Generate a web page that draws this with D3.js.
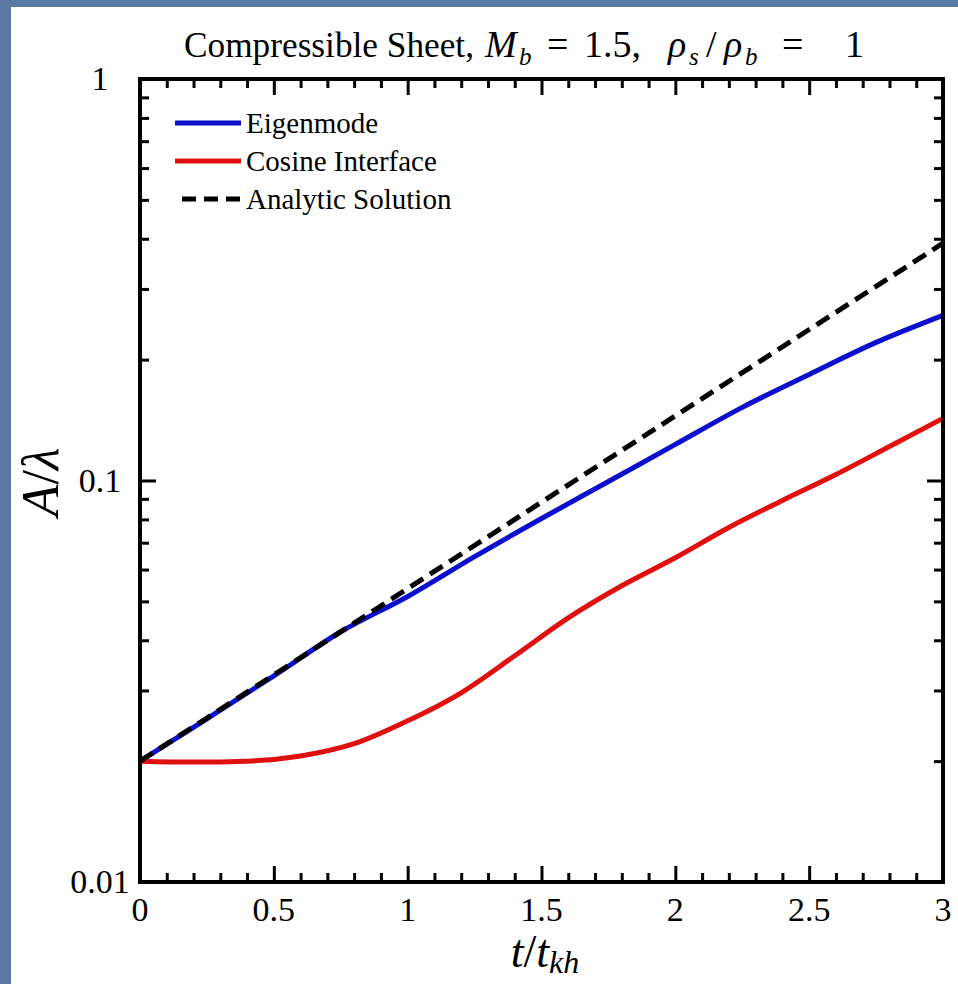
<!doctype html>
<html>
<head>
<meta charset="utf-8">
<script src="https://cdn.jsdelivr.net/npm/d3@7/dist/d3.min.js"></script>
<style>
  body { margin: 0; background: #5a7aa3; }
  svg { display: block; }
  text { font-family: "Liberation Serif", "DejaVu Serif", serif; fill: #000; }
</style>
</head>
<body>
<svg width="958" height="984"></svg>
<script>
// values
var tEigen  = [0, 0.25, 0.5, 0.75, 1.0, 1.25, 1.5, 1.75, 2.0, 2.25, 2.5, 2.75, 3.0];
var eigen   = [0.0200, 0.0255, 0.0326, 0.0420, 0.0514, 0.0646, 0.0804, 0.0994, 0.1230, 0.1521, 0.1837, 0.2208, 0.2579];

var tCosine = [0, 0.2, 0.4, 0.6, 0.8, 1.0, 1.2, 1.4, 1.6, 1.8, 2.0, 2.2, 2.4, 2.6, 2.8, 3.0];
var cosine  = [0.0200, 0.0199, 0.0200, 0.0206, 0.0221, 0.0252, 0.0296, 0.0366, 0.0455, 0.0547, 0.0642, 0.0764, 0.0892, 0.1035, 0.1215, 0.1428];

var tAnalytic = [0, 0.5, 1.0, 1.5, 2.0, 2.5, 3.0];
var analytic  = [0.0200, 0.0328, 0.0538, 0.0883, 0.1449, 0.2377, 0.390];

var xMajor = [0, 0.5, 1, 1.5, 2, 2.5, 3];
var xLabels = ["0", "0.5", "1", "1.5", "2", "2.5", "3"];
var yMajor = [0.01, 0.1, 1];
var yLabels = ["0.01", "0.1", "1"];

var seriesNames = ["Eigenmode", "Cosine Interface", "Analytic Solution"];
var seriesColors = ["#0c10cc", "#e01010", "#000000"];

var svg = d3.select("svg");

// blue border, white panel
svg.append("rect").attr("width", 958).attr("height", 984).attr("fill", "#5a7aa3");
svg.append("rect").attr("x", 11).attr("y", 7).attr("width", 947).attr("height", 977).attr("fill", "#fff");

var L = 140, R = 943, T = 79, B = 882;
var x = d3.scaleLinear().domain([0, 3]).range([L, R]);
var y = d3.scaleLog().domain([0.01, 1]).range([B, T]);

var xMinor = d3.range(0, 3.001, 0.1).filter(function(v) { return Math.abs(v * 2 - Math.round(v * 2)) > 1e-6; });
var yMinor = [];
[0.01, 0.1].forEach(function(d) { for (var k = 2; k <= 9; k++) yMinor.push(d * k); });

function styleAxis(g) {
  g.select(".domain").remove();
  g.selectAll("line").attr("stroke", "#000").attr("stroke-width", 3);
}

// ticks on all four sides, pointing in
svg.append("g").attr("transform", "translate(0," + B + ")")
  .call(d3.axisBottom(x).tickValues(xMajor).tickSize(-16).tickFormat("")).call(styleAxis);
svg.append("g").attr("transform", "translate(0," + B + ")")
  .call(d3.axisBottom(x).tickValues(xMinor).tickSize(-9).tickFormat("")).call(styleAxis);
svg.append("g").attr("transform", "translate(0," + T + ")")
  .call(d3.axisTop(x).tickValues(xMajor).tickSize(-16).tickFormat("")).call(styleAxis);
svg.append("g").attr("transform", "translate(0," + T + ")")
  .call(d3.axisTop(x).tickValues(xMinor).tickSize(-9).tickFormat("")).call(styleAxis);
svg.append("g").attr("transform", "translate(" + L + ",0)")
  .call(d3.axisLeft(y).tickValues(yMajor).tickSize(-16).tickFormat("")).call(styleAxis);
svg.append("g").attr("transform", "translate(" + L + ",0)")
  .call(d3.axisLeft(y).tickValues(yMinor).tickSize(-9).tickFormat("")).call(styleAxis);
svg.append("g").attr("transform", "translate(" + R + ",0)")
  .call(d3.axisRight(y).tickValues(yMajor).tickSize(-16).tickFormat("")).call(styleAxis);
svg.append("g").attr("transform", "translate(" + R + ",0)")
  .call(d3.axisRight(y).tickValues(yMinor).tickSize(-9).tickFormat("")).call(styleAxis);

// tick labels
svg.selectAll(".xl").data(xMajor).enter().append("text")
  .attr("x", function(d) { return x(d); }).attr("y", 921)
  .attr("text-anchor", "middle").attr("font-size", 34)
  .text(function(d, i) { return xLabels[i]; });
svg.selectAll(".yl").data(yMajor).enter().append("text")
  .attr("x", 100).attr("y", function(d) { return y(d) + 11; })
  .attr("text-anchor", "middle").attr("font-size", 34)
  .text(function(d, i) { return yLabels[i]; });

// curves
var line = d3.line().x(function(d) { return x(d[0]); }).y(function(d) { return y(d[1]); }).curve(d3.curveMonotoneX);
var data = [
  d3.zip(tEigen, eigen),
  d3.zip(tCosine, cosine),
  d3.zip(tAnalytic, analytic)
];
svg.selectAll(".curve").data(data).enter().append("path")
  .attr("d", line).attr("fill", "none")
  .attr("stroke", function(d, i) { return seriesColors[i]; })
  .attr("stroke-width", 5)
  .attr("stroke-dasharray", function(d, i) { return i == 2 ? "15,8" : null; });

// frame
svg.append("rect").attr("x", L).attr("y", T).attr("width", R - L).attr("height", B - T)
  .attr("fill", "none").attr("stroke", "#000").attr("stroke-width", 4);

// legend
var leg = svg.selectAll(".leg").data(seriesNames).enter().append("g")
  .attr("transform", function(d, i) { return "translate(0," + (123 + i * 38) + ")"; });
leg.append("line").attr("x1", function(d, i) { return i == 2 ? 182 : 175; }).attr("x2", 241)
  .attr("y1", 0).attr("y2", 0)
  .attr("stroke", function(d, i) { return seriesColors[i]; }).attr("stroke-width", 5)
  .attr("stroke-dasharray", function(d, i) { return i == 2 ? "14,8" : null; });
leg.append("text").attr("x", 246).attr("y", 10).attr("font-size", 29).text(function(d) { return d; });

// title
svg.append("text").attr("x", 184).attr("y", 57).attr("font-size", 35)
  .attr("textLength", 290).attr("lengthAdjust", "spacingAndGlyphs").text("Compressible Sheet,");
var math = svg.append("text").attr("y", 57);
function tok(tx, s, it, sub) {
  math.append("tspan").attr("x", tx).attr("y", sub ? 65 : 57)
    .attr("font-style", it ? "italic" : "normal").attr("font-size", sub ? 25 : 38).text(s);
}
tok(485, "M", true); tok(519, "b", true, true);
tok(547, "="); tok(584, "1.5,");
tok(668, "ρ", true); tok(689, "s", true, true);
tok(706, "/");
tok(724, "ρ", true); tok(745, "b", true, true);
tok(782, "="); tok(845, "1");

// axis titles
var xt = svg.append("text").attr("x", 545).attr("y", 967).attr("text-anchor", "middle").attr("font-size", 46).attr("font-style", "italic");
xt.append("tspan").text("t");
xt.append("tspan").attr("font-style", "normal").text("/");
xt.append("tspan").text("t");
xt.append("tspan").attr("font-size", 32).attr("dy", 6).text("kh");

var yt = svg.append("text").attr("transform", "translate(58,482) rotate(-90)")
  .attr("text-anchor", "middle").attr("font-size", 52).attr("font-style", "italic");
yt.append("tspan").text("A");
yt.append("tspan").attr("font-style", "normal").text("/");
yt.append("tspan").text("λ");
</script>
</body>
</html>
